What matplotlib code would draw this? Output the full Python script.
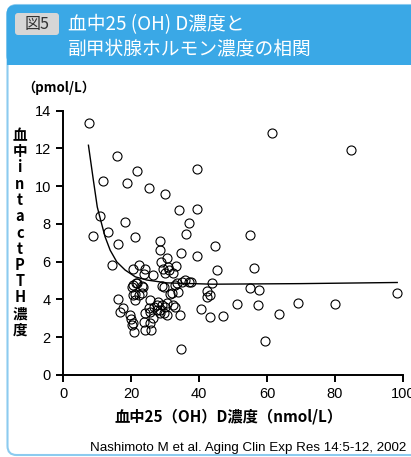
import matplotlib
matplotlib.use("Agg")
import matplotlib.pyplot as plt
from matplotlib.patches import FancyBboxPatch, Rectangle

plt.rcParams['font.family'] = ['Noto Sans CJK JP', 'DejaVu Sans']
LATIN = ['Liberation Sans', 'Noto Sans CJK JP']

# serum 25(OH)D (nmol/L) vs intact PTH (pmol/L)
vitd = [7.7, 15.7, 11.8, 21.7, 18.8, 25.1, 30.0, 39.4, 61.5, 84.7,
        10.8, 18.2, 34.1, 39.4, 36.9, 8.85, 13.3, 16.2, 21.2, 36.2,
        28.4, 28.4, 34.6, 39.4, 54.9, 44.8, 14.4, 20.6, 22.2, 24.1,
        26.5, 23.7, 28.8, 30.4, 29.4, 30.7, 30.0, 33.2, 31.0, 32.4,
        45.1, 56.0, 20.6, 21.6, 23.2, 29.2, 33.4, 34.9, 35.9, 36.9,
        37.6, 43.9, 54.9, 57.6, 98.3, 32.0, 33.9, 42.3, 43.3, 42.4,
        79.9, 69.0, 57.2, 51.1, 63.4, 59.5, 40.5, 43.3, 47.0, 34.5,
        34.6, 32.4, 33.0, 30.0, 30.5, 28.5, 29.5, 29.0, 27.6, 28.5,
        27.6, 26.6, 25.1, 24.1, 25.6, 30.5, 28.0, 25.6, 21.2, 16.0,
        17.7, 16.8, 19.5, 19.9, 20.5, 20.2, 20.7, 24.1, 25.8, 23.8,
        25.6, 26.4, 20.4, 21.0, 22.4, 23.1, 23.4, 21.5, 20.2, 29.5,
        33.0, 31.5]
pth = [13.35, 11.6, 10.25, 10.8, 10.15, 9.93, 9.6, 10.9, 12.84, 11.9,
       8.4, 8.08, 8.75, 8.77, 8.03, 7.35, 7.57, 6.92, 7.33, 7.46,
       7.08, 6.62, 6.48, 6.3, 7.4, 6.83, 5.82, 5.62, 5.82, 5.62,
       5.31, 5.36, 6.0, 6.18, 5.62, 5.73, 5.38, 5.78, 5.55, 5.38,
       5.55, 5.68, 4.76, 4.85, 4.7, 4.71, 4.85, 4.94, 5.03, 4.94,
       4.94, 4.88, 4.59, 4.48, 4.32, 4.32, 4.41, 4.47, 4.23, 4.13,
       3.74, 3.83, 3.72, 3.74, 3.24, 1.81, 3.5, 3.09, 3.12, 3.17,
       1.36, 3.7, 3.62, 3.62, 3.17, 3.44, 3.26, 3.72, 3.44, 3.26,
       3.7, 3.62, 3.53, 3.26, 3.35, 3.79, 3.88, 3.97, 3.97, 4.0,
       3.55, 3.35, 3.2, 2.95, 2.73, 2.64, 2.3, 2.38, 2.38, 2.82,
       2.77, 3.0, 4.22, 4.3, 4.22, 4.32, 4.67, 4.85, 4.67, 4.67,
       4.76, 4.29]

# regression curve
fit_x = [7.4, 8.85, 10.0, 11.0, 12.3, 13.8, 15.75, 18.2, 21.2, 24.6,
         30.5, 43.9, 69.8, 98.3]
fit_y = [12.17, 10.32, 8.9, 8.2, 7.32, 6.61, 5.99, 5.56, 5.2, 5.03,
         4.88, 4.81, 4.84, 4.9]

x_ticks = [0, 20, 40, 60, 80, 100]
y_ticks = [0, 2, 4, 6, 8, 10, 12, 14]
ylabel_chars = ['血', '中', 'i', 'n', 't', 'a', 'c', 't', 'P', 'T', 'H', '濃', '度']

W, H = 411, 457
fig = plt.figure(figsize=(W / 100, H / 100), dpi=100)

# background frame and header, in pixel coordinates
bg = fig.add_axes([0, 0, 1, 1])
bg.set_xlim(0, W)
bg.set_ylim(H, 0)
bg.axis('off')
bg.add_patch(FancyBboxPatch((7.5, 5), 440, 450, boxstyle="round,pad=0,rounding_size=9",
                            fc='white', ec='#8ccbef', lw=1.5))
bg.add_patch(FancyBboxPatch((6.5, 5), 440, 60, boxstyle="round,pad=0,rounding_size=9",
                            fc='#3aa8e6', ec='none'))
bg.add_patch(Rectangle((6.5, 40), 440, 25, fc='#3aa8e6', ec='none'))
bg.add_patch(FancyBboxPatch((15, 13), 44, 22, boxstyle="round,pad=0,rounding_size=3",
                            fc='#d6d6d6', ec='none'))
bg.text(37, 24.5, '図5', ha='center', va='center', fontsize=11.5, color='#333333')
bg.text(68, 25, '血中25 (OH) D濃度と', ha='left', va='center', fontsize=13.5, color='white')
bg.text(68, 48.5, '副甲状腺ホルモン濃度の相関', ha='left', va='center', fontsize=13.5, color='white')

bg.text(59, 88, '（pmol/L）', ha='center', va='center', fontsize=9.5, weight='bold')
top, bottom = 135, 330
for i, ch in enumerate(ylabel_chars):
    y = top + (bottom - top) * i / (len(ylabel_chars) - 1)
    bg.text(20, y, ch, ha='center', va='center', fontsize=10.5, weight='bold')
bg.text(229, 416, '血中25（OH）D濃度（nmol/L）', ha='center', va='center',
        fontsize=11, weight='bold')
bg.text(90, 448, 'Nashimoto M et al. Aging Clin Exp Res 14:5-12, 2002',
        ha='left', va='center', fontsize=9.6, family=LATIN)

# scatter plot
ax = fig.add_axes([63.3 / W, (H - 375) / H, 339.7 / W, 264.3 / H])
ax.patch.set_alpha(0)
ax.plot(vitd, pth, 'o', ms=6.5, mfc='none', mec='black', mew=0.8, clip_on=False)
ax.plot(fit_x, fit_y, color='black', lw=1.0)
ax.set_xlim(0, 100)
ax.set_ylim(0, 14)
ax.set_xticks(x_ticks)
ax.set_yticks(y_ticks)
for lab in ax.get_xticklabels() + ax.get_yticklabels():
    lab.set_family(LATIN)
for side in ['top', 'right']:
    ax.spines[side].set_visible(False)
for side in ['left', 'bottom']:
    ax.spines[side].set_linewidth(1.4)
ax.tick_params(direction='out', length=5, width=1.4, labelsize=10.5, pad=4)

fig.savefig('out.png', dpi=100)
